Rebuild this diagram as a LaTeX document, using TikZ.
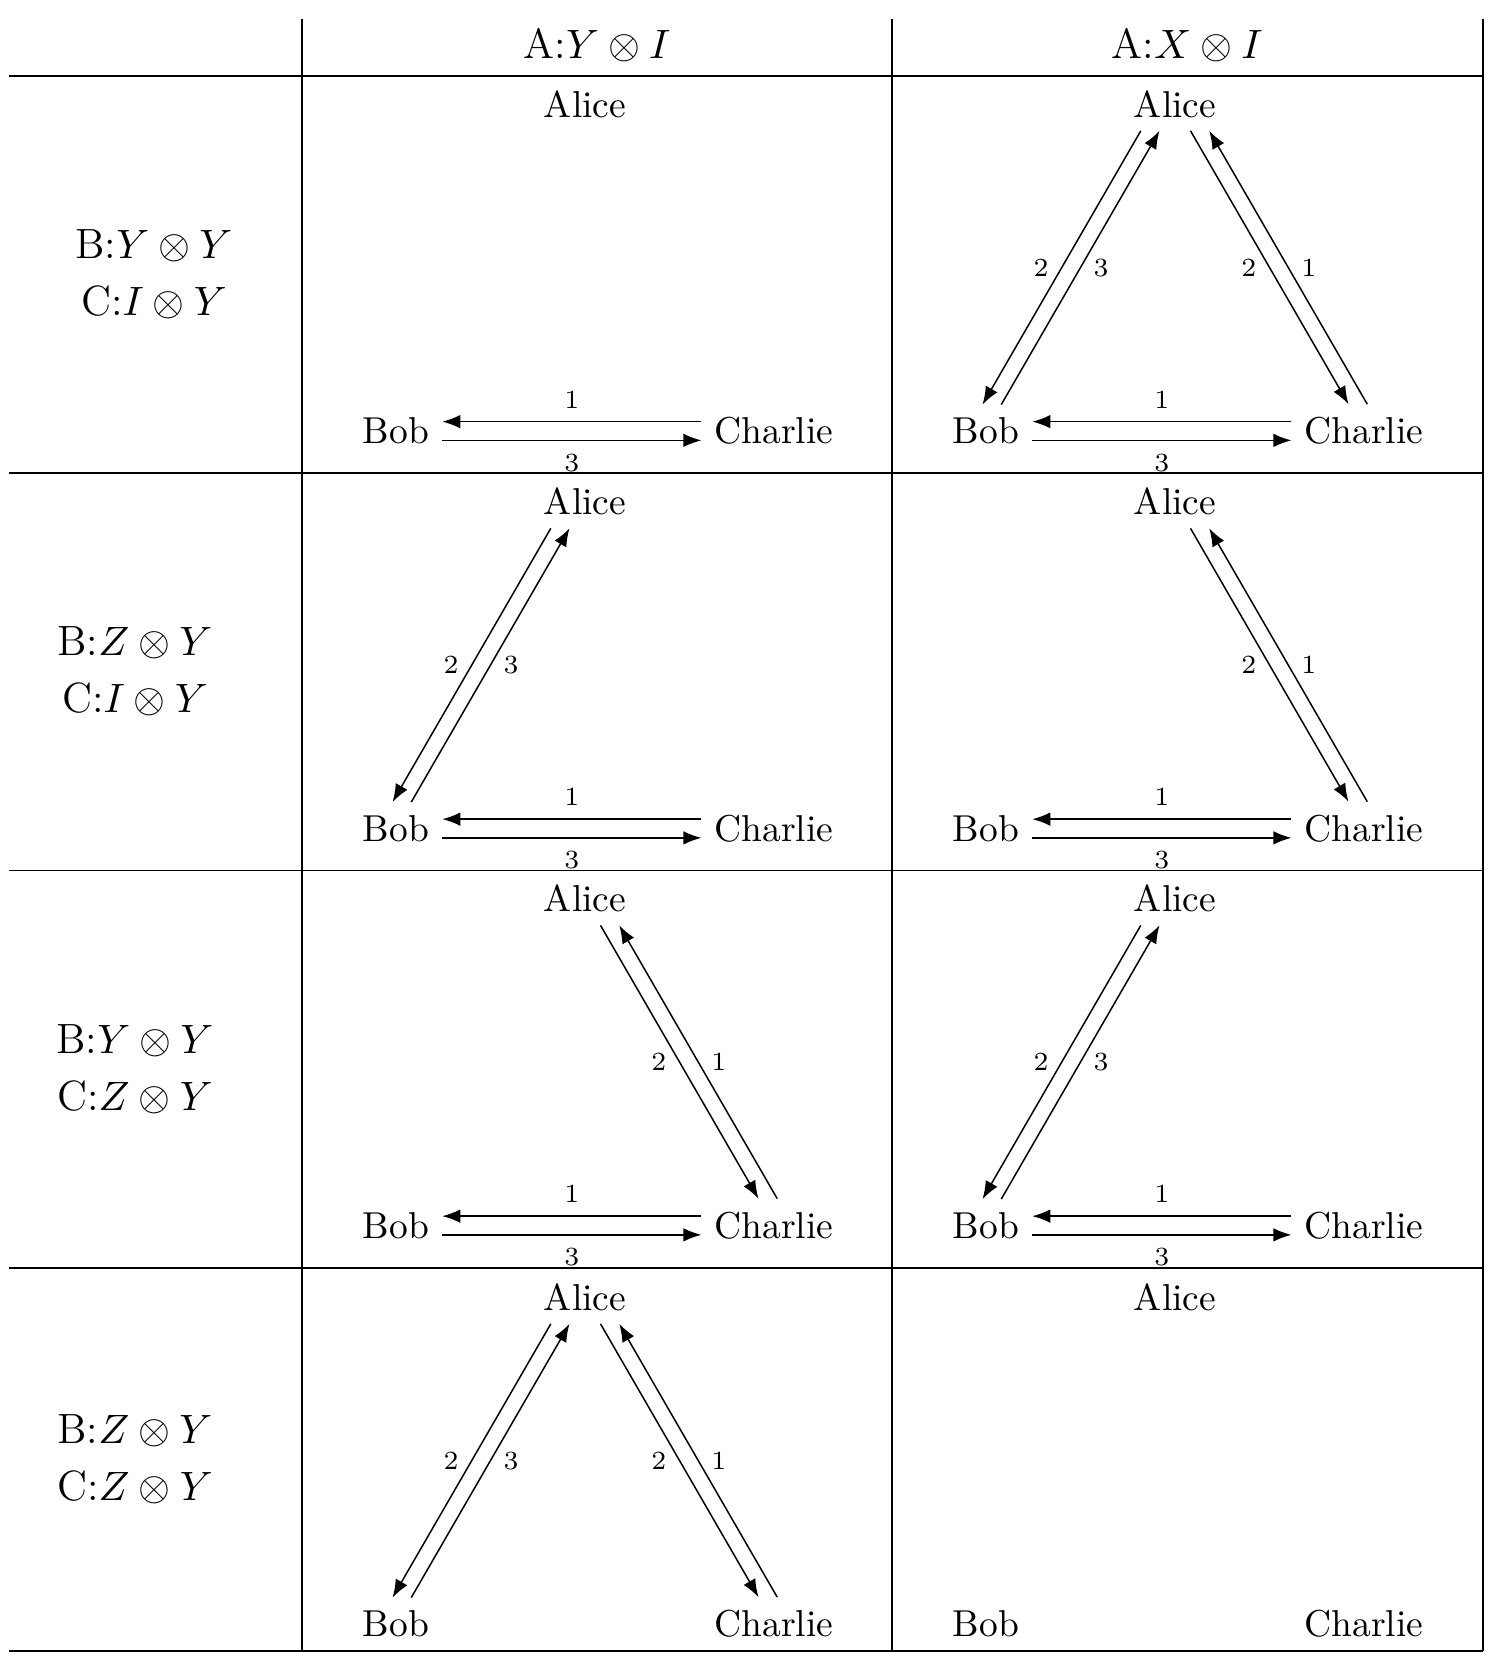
\documentclass[tikz,border=0pt]{standalone}
\usetikzlibrary{arrows.meta}

\tikzset{
  party/.style={font=\normalsize},
  head/.style={font=\fontsize{11.3pt}{15.2pt}\selectfont, align=center},
  lbl/.style={font=\scriptsize},
  msg/.style={-{Latex}},
  rule/.style={line width=0.4pt}
}
\newcommand{\linkab}[1]{%
  \draw[msg] (b#1) -- node[lbl, right] {3} (a#1);
  \draw[msg, transform canvas={xshift=-5pt}] (a#1) -- node[lbl, left] {2} (b#1);}
\newcommand{\linkac}[1]{%
  \draw[msg] (a#1) -- node[lbl, left] {2} (c#1);
  \draw[msg, transform canvas={xshift=5pt}] (c#1) -- node[lbl, right] {1} (a#1);}
\newcommand{\linkbc}[1]{%
  \draw[msg, transform canvas={yshift=2.5pt}] (c#1) -- node[lbl, above] {1} (b#1);
  \draw[msg, transform canvas={yshift=-2.5pt}] (b#1) -- node[lbl, below] {3} (c#1);}

\begin{document}
\begin{tikzpicture}[x=0.267pt, y=-0.267pt]
  \useasboundingbox (0,0) rectangle (1500,1665);
  \foreach \y in {76,473,870.5,1268,1651}
    \draw[rule] (9,\y) -- (1483,\y);
  \foreach \x in {302,892,1483}
    \draw[rule] (\x,19) -- (\x,1651);

  \node[head] (h1) at (597,45) {A:$Y\otimes I$};
  \node[head] (h2) at (1187,45) {A:$X\otimes I$};

  \node[head] (r1) at (154,274) {B:$Y\otimes Y$\\C:$I\otimes Y$};
  \node[head] (r2) at (135,671.5) {B:$Z\otimes Y$\\C:$I\otimes Y$};
  \node[head] (r3) at (135,1069) {B:$Y\otimes Y$\\C:$Z\otimes Y$};
  \node[head] (r4) at (135,1459.5) {B:$Z\otimes Y$\\C:$Z\otimes Y$};

  \foreach \r/\y in {1/104,2/501.5,3/898.5,4/1297}
    \foreach \c/\x in {1/585,2/1175} {
      \node[party] (a\r\c) at (\x,\y) {Alice};
      \node[party] (b\r\c) at (\x-189,\y+327) {Bob};
      \node[party] (c\r\c) at (\x+189,\y+327) {Charlie};
    }

  \linkbc{11}
  \linkab{12} \linkac{12} \linkbc{12}
  \linkab{21} \linkbc{21}
  \linkac{22} \linkbc{22}
  \linkac{31} \linkbc{31}
  \linkab{32} \linkbc{32}
  \linkab{41} \linkac{41}
\end{tikzpicture}
\end{document}
